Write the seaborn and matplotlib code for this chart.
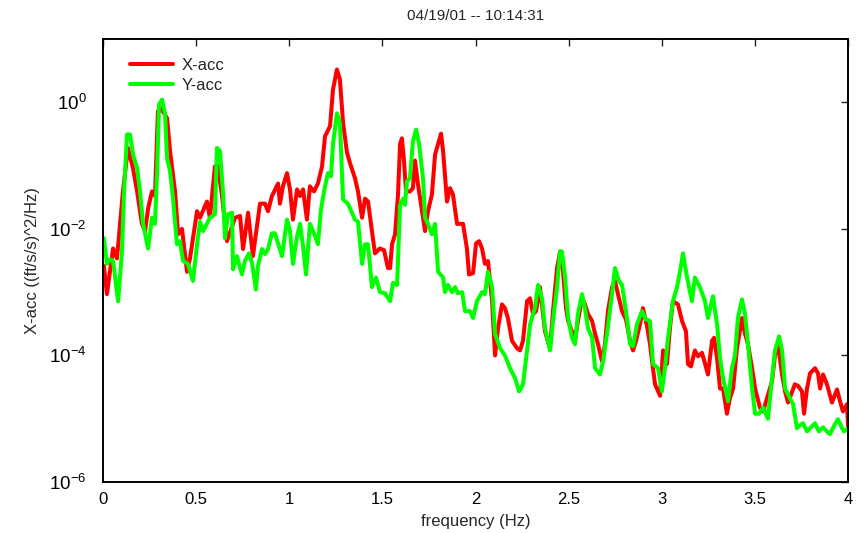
import matplotlib
matplotlib.use("Agg")
import matplotlib.pyplot as plt
from matplotlib.ticker import FixedLocator, LogFormatterSciNotation, NullLocator
import numpy as np
import pandas as pd
import seaborn as sns

title = "04/19/01 -- 10:14:31"
x_label = "frequency (Hz)"
y_label = "X-acc ((ft/s/s)^2/Hz)"
series_names = ["X-acc", "Y-acc"]
series_colors = ["#ff0000", "#00ff00"]

x_acc_freq = [
    0.005, 0.021, 0.054, 0.075, 0.107, 0.134, 0.161, 0.183, 0.209, 0.226,
    0.242, 0.263, 0.279, 0.295, 0.306, 0.328, 0.344, 0.360, 0.387, 0.403,
    0.424, 0.451, 0.467, 0.505, 0.521, 0.558, 0.574, 0.601, 0.617, 0.639,
    0.666, 0.709, 0.736, 0.752, 0.779, 0.805, 0.843, 0.870, 0.886, 0.907,
    0.940, 0.950, 0.966, 0.988, 1.004, 1.020, 1.042, 1.058, 1.074, 1.095,
    1.111, 1.133, 1.154, 1.176, 1.192, 1.219, 1.235, 1.256, 1.272, 1.289,
    1.310, 1.326, 1.353, 1.369, 1.391, 1.407, 1.423, 1.444, 1.460, 1.487,
    1.509, 1.530, 1.541, 1.552, 1.568, 1.584, 1.595, 1.605, 1.616, 1.627,
    1.648, 1.664, 1.675, 1.691, 1.713, 1.729, 1.745, 1.766, 1.783, 1.799,
    1.815, 1.826, 1.847, 1.863, 1.879, 1.901, 1.933, 1.954, 1.965, 1.987,
    2.003, 2.019, 2.035, 2.051, 2.067, 2.089, 2.105, 2.121, 2.142, 2.158,
    2.174, 2.196, 2.223, 2.239, 2.255, 2.277, 2.293, 2.309, 2.325, 2.346,
    2.373, 2.400, 2.416, 2.438, 2.454, 2.470, 2.486, 2.497, 2.518, 2.534,
    2.550, 2.572, 2.588, 2.604, 2.626, 2.642, 2.658, 2.679, 2.695, 2.711,
    2.733, 2.749, 2.765, 2.787, 2.808, 2.830, 2.846, 2.862, 2.883, 2.899,
    2.921, 2.937, 2.948, 2.964, 2.991, 3.007, 3.028, 3.044, 3.060, 3.087,
    3.109, 3.130, 3.141, 3.157, 3.178, 3.195, 3.216, 3.232, 3.248, 3.270,
    3.281, 3.297, 3.313, 3.329, 3.350, 3.366, 3.383, 3.404, 3.431, 3.447,
    3.463, 3.485, 3.501, 3.527, 3.544, 3.565, 3.592, 3.608, 3.624, 3.646,
    3.662, 3.678, 3.694, 3.715, 3.732, 3.753, 3.764, 3.780, 3.796, 3.823,
    3.839, 3.850, 3.866, 3.887, 3.914, 3.941, 3.957, 3.973, 3.995, 4.000,
]
x_acc_psd = [
    2.6e-3, 9.3e-4, 4.9e-3, 3.4e-3, 3.9e-2, 1.9e-1, 9.1e-2, 3.9e-2, 1.2e-2, 9.2e-3,
    2.1e-2, 3.9e-2, 3.3e-2, 7.2e-1, 8.3e-1, 6.7e-1, 5.6e-1, 1.7e-1, 3.9e-2, 8.2e-3,
    1.0e-2, 2.1e-3, 3.4e-3, 1.9e-2, 1.5e-2, 2.7e-2, 1.5e-2, 9.7e-2, 1.0e-1, 3.3e-2,
    6.4e-3, 1.5e-2, 1.6e-2, 4.8e-3, 1.8e-2, 3.7e-3, 2.5e-2, 2.5e-2, 1.9e-2, 3.3e-2,
    5.2e-2, 2.5e-2, 4.7e-2, 7.6e-2, 4.2e-2, 1.4e-2, 4.2e-2, 3.3e-2, 4.2e-2, 1.4e-2,
    4.7e-2, 3.9e-2, 5.2e-2, 9.7e-2, 2.9e-1, 4.2e-1, 1.6e0, 3.3e0, 2.3e0, 4.7e-1,
    1.6e-1, 1.1e-1, 6.3e-2, 3.9e-2, 1.5e-2, 3.0e-2, 2.7e-2, 9.2e-3, 4.1e-3, 4.9e-3,
    4.6e-3, 2.4e-3, 2.4e-3, 5.7e-3, 8.2e-3, 3.5e-2, 2.2e-1, 2.7e-1, 1.2e-1, 3.9e-2,
    3.9e-2, 4.4e-2, 1.2e-1, 5.1e-2, 1.9e-2, 9.2e-3, 1.9e-2, 3.5e-2, 1.5e-1, 2.2e-1,
    3.2e-1, 1.7e-1, 2.7e-2, 4.4e-2, 3.5e-2, 1.2e-2, 1.2e-2, 4.9e-3, 1.9e-3, 2.0e-3,
    5.9e-3, 6.4e-3, 4.9e-3, 2.8e-3, 3.1e-3, 7.2e-4, 1.0e-4, 2.7e-4, 6.4e-4, 5.6e-4,
    3.9e-4, 1.7e-4, 1.3e-4, 1.2e-4, 1.7e-4, 7.2e-4, 8.0e-4, 4.5e-4, 5.0e-4, 1.2e-3,
    2.4e-4, 1.3e-4, 5.0e-4, 2.4e-3, 4.4e-3, 2.1e-3, 5.6e-4, 3.5e-4, 2.4e-4, 1.7e-4,
    3.5e-4, 8.0e-4, 6.4e-4, 4.5e-4, 3.5e-4, 2.2e-4, 1.5e-4, 8.1e-5, 1.5e-4, 5.0e-4,
    1.2e-3, 1.5e-3, 9.3e-4, 5.0e-4, 3.7e-4, 1.7e-4, 1.2e-4, 1.7e-4, 3.1e-4, 5.6e-4,
    2.9e-4, 1.5e-4, 8.1e-5, 3.5e-5, 2.3e-5, 1.2e-4, 7.3e-5, 2.7e-4, 7.2e-4, 6.4e-4,
    3.5e-4, 2.4e-4, 7.3e-5, 6.7e-5, 1.2e-4, 9.7e-5, 1.1e-4, 7.5e-5, 5.0e-5, 1.7e-4,
    1.9e-4, 9.0e-5, 3.0e-5, 3.0e-5, 1.2e-5, 2.1e-5, 3.0e-5, 1.3e-4, 3.9e-4, 2.2e-4,
    1.5e-4, 6.3e-5, 3.0e-5, 1.5e-5, 1.3e-5, 2.1e-5, 3.9e-5, 1.0e-4, 1.5e-4, 5.0e-5,
    2.7e-5, 1.8e-5, 2.4e-5, 3.5e-5, 3.3e-5, 2.7e-5, 1.2e-5, 3.0e-5, 5.2e-5, 6.3e-5,
    5.2e-5, 3.0e-5, 5.0e-5, 3.5e-5, 1.8e-5, 2.9e-5, 1.9e-5, 1.3e-5, 1.7e-5, 7.6e-6,
]

y_acc_freq = [
    0.005, 0.021, 0.038, 0.054, 0.081, 0.102, 0.113, 0.129, 0.145, 0.161,
    0.183, 0.199, 0.215, 0.242, 0.263, 0.279, 0.290, 0.301, 0.317, 0.333,
    0.344, 0.360, 0.376, 0.397, 0.413, 0.430, 0.456, 0.483, 0.505, 0.521,
    0.537, 0.558, 0.574, 0.601, 0.612, 0.628, 0.644, 0.655, 0.671, 0.693,
    0.698, 0.719, 0.746, 0.762, 0.784, 0.800, 0.821, 0.832, 0.854, 0.870,
    0.886, 0.907, 0.923, 0.940, 0.961, 0.988, 1.004, 1.020, 1.042, 1.058,
    1.074, 1.090, 1.111, 1.133, 1.154, 1.170, 1.192, 1.208, 1.224, 1.235,
    1.256, 1.272, 1.289, 1.315, 1.353, 1.369, 1.391, 1.407, 1.423, 1.444,
    1.466, 1.487, 1.514, 1.541, 1.557, 1.579, 1.595, 1.611, 1.621, 1.632,
    1.648, 1.664, 1.681, 1.697, 1.718, 1.729, 1.745, 1.766, 1.783, 1.799,
    1.826, 1.836, 1.852, 1.874, 1.890, 1.906, 1.928, 1.944, 1.970, 1.987,
    2.008, 2.035, 2.051, 2.067, 2.089, 2.105, 2.132, 2.158, 2.185, 2.212,
    2.234, 2.255, 2.277, 2.293, 2.319, 2.336, 2.357, 2.373, 2.400, 2.416,
    2.438, 2.454, 2.464, 2.481, 2.497, 2.518, 2.534, 2.550, 2.572, 2.588,
    2.604, 2.626, 2.642, 2.668, 2.685, 2.706, 2.733, 2.749, 2.770, 2.787,
    2.813, 2.830, 2.846, 2.867, 2.894, 2.915, 2.937, 2.953, 2.980, 3.001,
    3.017, 3.034, 3.060, 3.082, 3.098, 3.114, 3.136, 3.162, 3.178, 3.205,
    3.232, 3.248, 3.275, 3.297, 3.313, 3.329, 3.356, 3.377, 3.393, 3.409,
    3.431, 3.447, 3.463, 3.485, 3.501, 3.522, 3.544, 3.570, 3.592, 3.608,
    3.630, 3.646, 3.662, 3.689, 3.705, 3.726, 3.742, 3.758, 3.780, 3.801,
    3.823, 3.844, 3.866, 3.887, 3.903, 3.930, 3.946, 3.968, 3.979, 4.000,
]
y_acc_psd = [
    7.1e-3, 2.8e-3, 3.3e-3, 3.1e-3, 7.2e-4, 4.4e-3, 3.9e-2, 3.1e-1, 3.1e-1, 1.5e-1,
    9.1e-2, 3.9e-2, 1.2e-2, 4.9e-3, 1.5e-2, 1.2e-2, 7.3e-2, 9.3e-1, 1.1e0, 6.5e-1,
    1.3e-1, 8.1e-2, 3.0e-2, 5.7e-3, 6.4e-3, 3.1e-3, 2.8e-3, 1.5e-3, 5.7e-3, 1.3e-2,
    9.2e-3, 1.2e-2, 1.5e-2, 1.7e-2, 1.9e-1, 1.7e-1, 3.9e-2, 7.1e-3, 1.7e-2, 1.8e-2,
    2.3e-3, 3.7e-3, 1.9e-3, 3.1e-3, 4.1e-3, 2.9e-3, 1.1e-3, 2.6e-3, 4.8e-3, 4.0e-3,
    4.8e-3, 8.5e-3, 8.5e-3, 5.9e-3, 3.7e-3, 1.4e-2, 9.2e-3, 2.8e-3, 7.6e-3, 1.2e-2,
    5.3e-3, 1.9e-3, 1.2e-2, 8.5e-3, 5.7e-3, 2.0e-2, 4.7e-2, 7.6e-2, 6.8e-2, 2.2e-1,
    6.7e-1, 4.7e-1, 2.9e-2, 2.5e-2, 1.4e-2, 1.3e-2, 2.8e-3, 5.7e-3, 5.7e-3, 1.2e-3,
    1.7e-3, 1.0e-3, 9.6e-4, 7.2e-4, 1.4e-3, 1.3e-3, 2.4e-2, 3.0e-2, 2.4e-2, 5.6e-2,
    6.3e-2, 2.4e-1, 3.7e-1, 2.2e-1, 6.3e-2, 1.5e-2, 1.2e-2, 8.2e-3, 1.2e-2, 2.1e-3,
    1.7e-3, 1.0e-3, 1.3e-3, 1.0e-3, 1.2e-3, 9.6e-4, 1.0e-3, 5.0e-4, 5.0e-4, 3.9e-4,
    7.2e-4, 1.0e-3, 9.3e-4, 2.1e-3, 1.2e-3, 2.2e-4, 1.3e-4, 1.0e-4, 6.3e-5, 4.4e-5,
    2.7e-5, 3.5e-5, 1.2e-4, 3.1e-4, 5.6e-4, 1.3e-3, 8.0e-4, 2.7e-4, 1.2e-4, 3.5e-4,
    1.2e-3, 4.4e-3, 4.4e-3, 1.7e-3, 3.9e-4, 1.9e-4, 1.5e-4, 4.5e-4, 9.3e-4, 5.6e-4,
    2.7e-4, 1.9e-4, 6.3e-5, 5.0e-5, 8.1e-5, 2.2e-4, 9.3e-4, 2.4e-3, 1.5e-3, 1.3e-3,
    3.9e-4, 1.5e-4, 1.4e-4, 3.1e-4, 5.0e-4, 3.7e-4, 3.5e-4, 7.3e-5, 6.3e-5, 2.7e-5,
    6.3e-5, 1.9e-4, 7.2e-4, 1.2e-3, 2.1e-3, 4.1e-3, 1.7e-3, 7.2e-4, 1.7e-3, 1.2e-3,
    7.2e-4, 3.9e-4, 8.6e-4, 3.1e-4, 9.0e-5, 4.4e-5, 1.9e-5, 6.3e-5, 1.0e-4, 3.9e-4,
    7.7e-4, 4.5e-4, 1.5e-4, 3.0e-5, 1.2e-5, 1.2e-5, 1.5e-5, 1.0e-5, 4.4e-5, 1.2e-4,
    2.0e-4, 1.2e-4, 3.0e-5, 2.1e-5, 1.7e-5, 7.1e-6, 7.9e-6, 8.5e-6, 6.3e-6, 7.3e-6,
    8.5e-6, 6.3e-6, 7.3e-6, 6.3e-6, 5.7e-6, 8.2e-6, 9.8e-6, 7.1e-6, 6.3e-6, 7.1e-6,
]

x_ticks = [0, 0.5, 1, 1.5, 2, 2.5, 3, 3.5, 4]
x_tick_labels = ["0", "0.5", "1", "1.5", "2", "2.5", "3", "3.5", "4"]
y_ticks = [1e-6, 1e-4, 1e-2, 1e0]

sns.set_style("white")
plt.rcParams["font.family"] = ["Liberation Sans", "DejaVu Sans"]
plt.rcParams["mathtext.fontset"] = "custom"
plt.rcParams["mathtext.rm"] = "Liberation Sans"
plt.rcParams["mathtext.it"] = "Liberation Sans"

frames = [
    pd.DataFrame({"frequency": x_acc_freq, "psd": x_acc_psd, "series": series_names[0]}),
    pd.DataFrame({"frequency": y_acc_freq, "psd": y_acc_psd, "series": series_names[1]}),
]

fig = plt.figure(figsize=(8.63, 5.33), dpi=100)
ax = fig.add_axes([103 / 863, 1 - 482 / 533, 745 / 863, 443 / 533])

for df, color in zip(frames, series_colors):
    sns.lineplot(data=df, x="frequency", y="psd", color=color, linewidth=2.9,
                 label=df["series"].iloc[0], ax=ax, sort=False, estimator=None)
for line in ax.get_lines():
    line.set_solid_joinstyle("round")
    line.set_solid_capstyle("round")

ax.set_yscale("log")
ax.set_xlim(0, 4)
ax.set_ylim(1e-6, 1e1)
ax.xaxis.set_major_locator(FixedLocator(x_ticks))
ax.set_xticklabels(x_tick_labels)
ax.yaxis.set_major_locator(FixedLocator(y_ticks))
ax.yaxis.set_major_formatter(LogFormatterSciNotation())
ax.yaxis.set_minor_locator(NullLocator())

ax.tick_params(axis="both", which="major", direction="in", length=5, width=1,
               top=True, right=True, colors="#222222")
ax.tick_params(axis="x", labelsize=12, pad=7)
ax.tick_params(axis="y", labelsize=13.5, pad=12)
ax.tick_params(axis="both", labelcolor="black")
for spine in ax.spines.values():
    spine.set_visible(True)
    spine.set_color("black")
    spine.set_linewidth(1.4)

ax.set_xlabel(x_label, fontsize=12, labelpad=5)
ax.set_ylabel(y_label, fontsize=12, labelpad=6)
ax.set_title(title, fontsize=11, pad=14)

leg = ax.legend(loc="upper left", frameon=False, fontsize=12, handlelength=2.6,
                handletextpad=0.5, labelspacing=0.3, borderaxespad=0.6,
                bbox_to_anchor=(0.014, 0.995))
for line in leg.get_lines():
    line.set_linewidth(2.9)

fig.savefig("out.png", dpi=100, facecolor="white")
